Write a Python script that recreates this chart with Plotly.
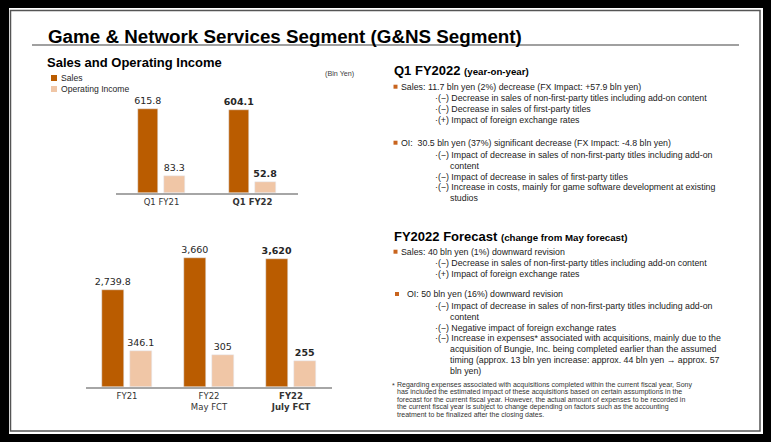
import plotly.graph_objects as go

# chart data (Bln Yen)
top_categories = ["Q1 FY21", "Q1 FY22"]
top_sales = [615.8, 604.1]
top_oi = [83.3, 52.8]

bottom_categories = ["FY21", "FY22<br>May FCT", "FY22<br>July FCT"]
bottom_sales = [2739.8, 3660, 3620]
bottom_oi = [346.1, 305, 255]

# the latest period is shown in bold
top_bold = [False, True]
bottom_bold = [False, False, True]

SALES_COLOR = "#BA5C00"
OI_COLOR = "#F0C6A6"
AXIS_COLOR = "#A6A6A6"
TEXT_FONT = "Liberation Sans, Arial, sans-serif"
NUM_FONT = "DejaVu Sans, Verdana, sans-serif"

W, H = 771, 442


def fx(px):
    return px / W


def fy(py):
    return 1 - py / H


def label(v, bold):
    s = format(v, ",g")
    return f"<b>{s}</b>" if bold else s


def tick(c, bold):
    return f"<b>{c}</b>" if bold else c


fig = go.Figure()

bar_text = dict(textposition="outside", cliponaxis=False, constraintext="none",
                textfont=dict(family=NUM_FONT, size=9.5, color="#262626"))

fig.add_trace(go.Bar(x=top_categories, y=top_sales, xaxis="x", yaxis="y",
                     marker_color=SALES_COLOR, width=0.225, offset=-0.26,
                     text=[label(v, b) for v, b in zip(top_sales, top_bold)], **bar_text))
fig.add_trace(go.Bar(x=top_categories, y=top_oi, xaxis="x", yaxis="y2",
                     marker_color=OI_COLOR, width=0.23, offset=0.03,
                     text=[label(v, b) for v, b in zip(top_oi, top_bold)], **bar_text))
fig.add_trace(go.Bar(x=bottom_categories, y=bottom_sales, xaxis="x2", yaxis="y3",
                     marker_color=SALES_COLOR, width=0.268, offset=-0.302,
                     text=[label(v, b) for v, b in zip(bottom_sales, bottom_bold)], **bar_text))
fig.add_trace(go.Bar(x=bottom_categories, y=bottom_oi, xaxis="x2", yaxis="y4",
                     marker_color=OI_COLOR, width=0.268, offset=0.035,
                     text=[label(v, b) for v, b in zip(bottom_oi, bottom_bold)], **bar_text))

xcommon = dict(type="category", showline=True, linecolor=AXIS_COLOR, linewidth=1.5,
               ticks="", showgrid=False, zeroline=False,
               tickfont=dict(family=NUM_FONT, size=8.5, color="#333333"))

fig.update_layout(
    width=W, height=H, autosize=False,
    margin=dict(l=0, r=0, t=0, b=0),
    paper_bgcolor="black", plot_bgcolor="white",
    showlegend=False,
    bargap=0,
    xaxis=dict(domain=[fx(116), fx(298)], anchor="y", range=[-0.5, 1.5],
               tickvals=top_categories,
               ticktext=[tick(c, b) for c, b in zip(top_categories, top_bold)], **xcommon),
    yaxis=dict(domain=[fy(193), fy(100)], anchor="x", range=[0, 679], visible=False),
    yaxis2=dict(overlaying="y", anchor="x", range=[0, 465], visible=False),
    xaxis2=dict(domain=[fx(86), fx(332)], anchor="y3", range=[-0.5, 2.5],
                tickvals=bottom_categories,
                ticktext=[tick(c, b) for c, b in zip(bottom_categories, bottom_bold)], **xcommon),
    yaxis3=dict(domain=[fy(387), fy(250)], anchor="x2", range=[0, 3889], visible=False),
    yaxis4=dict(overlaying="y3", anchor="x2", range=[0, 1321], visible=False),
)

# slide background, frame and title rule
shapes = [
    dict(type="rect", xref="paper", yref="paper", x0=fx(9), x1=fx(763), y0=fy(434), y1=fy(8),
         fillcolor="white", line=dict(width=0), layer="below"),
    dict(type="rect", xref="paper", yref="paper", x0=fx(10.5), x1=fx(760), y0=fy(431), y1=fy(10.5),
         fillcolor="rgba(0,0,0,0)", line=dict(color="#555555", width=1.5)),
    dict(type="line", xref="paper", yref="paper", x0=fx(32), x1=fx(739), y0=fy(45), y1=fy(45),
         line=dict(color="#808080", width=1.5)),
    # legend swatches
    dict(type="rect", xref="paper", yref="paper", x0=fx(51), x1=fx(57), y0=fy(81), y1=fy(75),
         fillcolor=SALES_COLOR, line=dict(width=0)),
    dict(type="rect", xref="paper", yref="paper", x0=fx(51), x1=fx(57), y0=fy(92), y1=fy(86),
         fillcolor=OI_COLOR, line=dict(width=0)),
]

ann = []


def text(x, y, s, size, color="#1a1a1a", bold=False):
    if bold:
        s = f"<b>{s}</b>"
    ann.append(dict(x=fx(x + 1), y=fy(y), xref="paper", yref="paper", text=s, showarrow=False,
                    xanchor="left", yanchor="middle", align="left", borderpad=0,
                    font=dict(family=TEXT_FONT, size=size, color=color)))


def bullet(x, y):
    shapes.append(dict(type="rect", xref="paper", yref="paper", x0=fx(x), x1=fx(x + 4),
                       y0=fy(y + 2), y1=fy(y - 2), fillcolor="#C8641E", line=dict(width=0)))


text(46, 36.5, "Game &amp; Network Services Segment (G&amp;NS Segment)", 18.8, "#000000", bold=True)
text(45, 63, "Sales and Operating Income", 13, "#000000", bold=True)
text(59, 78, "Sales", 8.6, "#262626")
text(59, 89, "Operating Income", 8.6, "#262626")
text(323, 73.5, "(Bln Yen)", 7.2, "#404040")

# Q1 FY2022 block
text(392, 70, "Q1 FY2022 <span style='font-size:9.7px'>(year-on-year)</span>", 13, "#000000", bold=True)
bullet(393.5, 86.7)
text(399, 86.7, "Sales: 11.7 bln yen (2%) decrease (FX Impact: +57.9 bln yen)", 8.8)
q1_sales_sub = [
    "·(−) Decrease in sales of non-first-party titles including add-on content",
    "·(−) Decrease in sales of first-party titles",
    "·(+) Impact of foreign exchange rates",
]
for i, s in enumerate(q1_sales_sub):
    text(433, 98.3 + i * 10.8, s, 8.8)
bullet(393.5, 142.7)
text(399, 142.7, "OI:  30.5 bln yen (37%) significant decrease (FX Impact: -4.8 bln yen)", 8.8)
q1_oi_sub = [
    (433, "·(−) Impact of decrease in sales of non-first-party titles including add-on"),
    (447.5, "content"),
    (433, "·(−) Impact of decrease in sales of first-party titles"),
    (433, "·(−) Increase in costs, mainly for game software development at existing"),
    (447.5, "studios"),
]
for i, (x, s) in enumerate(q1_oi_sub):
    text(x, 155 + i * 10.8, s, 8.8)

# FY2022 forecast block
text(392, 236, "FY2022 Forecast <span style='font-size:9.7px'>(change from May forecast)</span>", 13,
     "#000000", bold=True)
bullet(393.5, 251.7)
text(399, 251.7, "Sales: 40 bln yen (1%) downward revision", 8.8)
fc_sales_sub = [
    "·(−) Decrease in sales of non-first-party titles including add-on content",
    "·(+) Impact of foreign exchange rates",
]
for i, s in enumerate(fc_sales_sub):
    text(433, 263.3 + i * 10.3, s, 8.8)
bullet(395, 294)
text(405, 294, "OI: 50 bln yen (16%) downward revision", 8.8)
fc_oi_sub = [
    (433, "·(−) Impact of decrease in sales of non-first-party titles including add-on"),
    (447.5, "content"),
    (433, "·(−) Negative impact of foreign exchange rates"),
    (433, "·(−) Increase in expenses* associated with acquisitions, mainly due to the"),
    (447.5, "acquisition of Bungie, Inc. being completed earlier than the assumed"),
    (447.5, "timing (approx. 13 bln yen increase: approx. 44 bln yen → approx. 57"),
    (447.5, "bln yen)"),
]
for i, (x, s) in enumerate(fc_oi_sub):
    text(x, 306 + i * 10.75, s, 8.8)

footnote = [
    "Regarding expenses associated with acquisitions completed within the current fiscal year, Sony",
    "has included the estimated impact of these acquisitions based on certain assumptions in the",
    "forecast for the current fiscal year. However, the actual amount of expenses to be recorded in",
    "the current fiscal year is subject to change depending on factors such as the accounting",
    "treatment to be finalized after the closing dates.",
]
text(389.5, 385.5, "*", 7, "#333333")
for i, s in enumerate(footnote):
    text(395, 385 + i * 7.4, s, 7, "#333333")

fig.update_layout(shapes=shapes, annotations=ann)
fig.write_html("out.html", config={"displayModeBar": False},
               post_script="document.body.style.margin='0';document.body.style.background='black';")
